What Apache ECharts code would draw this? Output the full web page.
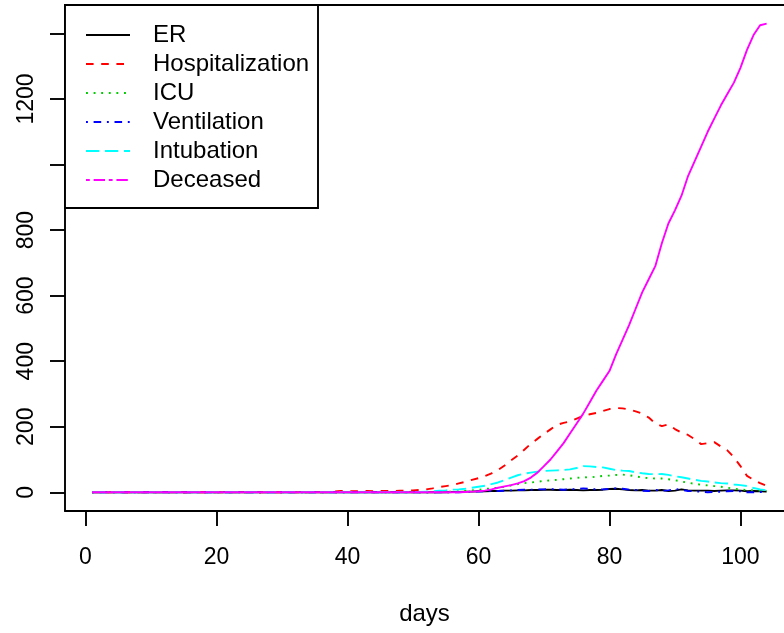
<!DOCTYPE html>
<html><head><meta charset="utf-8">
<script src="https://cdn.jsdelivr.net/npm/echarts@6/dist/echarts.min.js"></script>
<style>html,body{margin:0;padding:0;background:#fff;overflow:hidden}#c{width:784px;height:633px}</style>
</head><body><div id="c"></div>
<script>
const seriesNames = ['ER', 'Hospitalization', 'ICU', 'Ventilation', 'Intubation', 'Deceased'];
const er = [
  0,0,0,0,0,0,0,0,0,0, 0,0,0,0,0,0,0,0,0,0, 0,0,0,0,0,0,0,0,0,0,
  0,0,0,0,0,0,0,0,0,0, 0,0,0,0,0,0,0,0,0,0, 0,0,0,0,0,
  1,1,2,2,3,3,4,4,5,5, 6,6,7,7,8,8,7,7,8,7, 6,7,7,8,10,11,9,7,6,7,
  5,5,7,4,5,9,6,5,5,5, 4,5,6,6,5,3,4,3,2];
const hospitalization = [
  0,0,0,0,0,0,0,0,0,0, 0,0,0,0,0,0,0,0,0,0, 0,0,0,0,0,0,0,0,0,0,
  0,0,0,0,0,0,0,
  2,4,4,3,4,4,3,4,4,4, 5,5,6,7,9,12,16,19,22,27,
  32,38,43,50,58,68,82,98,112,130, 148,163,178,192,206,212,216,225,233,238,
  242,248,254,257,256,253,247,240,228,210, 202,207,193,182,175,162,147,150,153,140,
  128,107,80,50,38,28,20];
const icu = [
  0,0,0,0,0,0,0,0,0,0, 0,0,0,0,0,0,0,0,0,0, 0,0,0,0,0,0,0,0,0,0,
  0,0,0,0,0,0,0,0,0,0, 0,0,0,0,0,0,0,0,0,0, 0,0,0,0,
  1,2,3,4,6,8,10,12,14,17, 21,25,28,30,32,35,36,38,40,42,
  44,46,45,48,50,51,53,54,52,49, 45,43,42,42,40,37,33,29,26,23,
  21,19,17,14,11,9,7,6,5,4];
const ventilation = [
  0,0,0,0,0,0,0,0,0,0, 0,0,0,0,0,0,0,0,0,0, 0,0,0,0,0,0,0,0,0,0,
  0,0,0,0,0,0,0,0,0,0, 0,0,0,0,0,0,0,0,0,0, 0,0,0,0,0,0,0,
  1,2,2,3,4,4,5,6,7,8, 8,9,9,10,9,8,9,10,12,10,
  9,9,10,12,11,8,7,5,4,7, 5,6,10,8,4,3,2,0,1,2,
  3,4,3,0,0,1,1];
const intubation = [
  0,0,0,0,0,0,0,0,0,0, 0,0,0,0,0,0,0,0,0,0, 0,0,0,0,0,0,0,0,0,0,
  0,0,0,0,0,0,0,0,0,0, 0,0,0,0,0,0,0,0,0,0,
  1,2,3,5,6,8,9,11,14,17, 20,25,30,37,45,52,57,60,63,65,
  66,67,68,70,74,80,79,77,76,72, 68,66,65,61,58,56,55,56,53,49,
  46,42,38,35,33,30,28,27,24,22, 19,13,9,6];
const deceased = [
  0,0,0,0,0,0,0,0,0,0, 0,0,0,0,0,0,0,0,0,0, 0,0,0,0,0,0,0,0,0,0,
  0,0,0,0,0,0,0,0,0,0, 0,0,0,0,0,0,0,0,0,0, 0,0,0,0,0,0,0,
  1,2,3,5,9,14,18,22,27,34, 45,60,80,100,125,150,180,210,240,275,
  310,340,370,420,465,510,560,610,650,690, 760,820,860,905,965,1010,1055,1100,1140,1180,
  1215,1250,1295,1350,1395,1425,1430];
const xTicks = [0, 20, 40, 60, 80, 100];
const yTicks = [0, 200, 400, 600, 800, 1000, 1200, 1400];
const yLabels = [0, 200, 400, 600, 800, 1200];
const xTitle = 'days';

const allData = [er, hospitalization, icu, ventilation, intubation, deceased];
const colors = ['#000000', '#FF0000', '#00CD00', '#0000FF', '#00FFFF', '#FF00FF'];
const LW = 1.9;
// legend line types (R lty 1..6)
const legendDashes = ['solid', [7.6, 7.6], [1.9, 5.7], [1.9, 5.7, 7.6, 5.7], [13.3, 5.7], [3.8, 3.8, 11.4, 3.8]];
// plotted line types (Deceased drawn solid in the plot)
const plotDashes = ['solid', [7.6, 7.6], [1.9, 5.7], [1.9, 5.7, 7.6, 5.7], [13.3, 5.7], 'solid'];
const FONT = '"Liberation Sans", Arial, Helvetica, sans-serif';
const XMIN = -3.12, XMAX = 106.65;
const YMIN = -57.06, YMAX = 1486.8;

const series = allData.map((arr, k) => ({
  name: seriesNames[k],
  type: 'line',
  data: arr.map((v, i) => [i + 1, v]),
  showSymbol: false,
  symbol: 'none',
  silent: true,
  lineStyle: { color: colors[k], width: LW, type: plotDashes[k] },
  z: 2 + k
}));

const legendEls = [{
  type: 'rect', z: 100,
  shape: { x: 65, y: 5, width: 253, height: 203 },
  style: { fill: '#fff', stroke: '#000', lineWidth: LW }
}];
seriesNames.forEach((n, k) => {
  const yc = 35 + k * 29;
  legendEls.push({
    type: 'line', z: 101,
    shape: { x1: 86, y1: yc, x2: 130, y2: yc },
    style: { stroke: colors[k], lineWidth: LW, lineDash: legendDashes[k] === 'solid' ? null : legendDashes[k] }
  });
  legendEls.push({
    type: 'text', z: 101, x: 153, y: yc,
    style: { text: n, fill: '#000', font: '24px ' + FONT, verticalAlign: 'middle', align: 'left' }
  });
});

const tickStyle = { color: '#000', width: LW };
const chart = echarts.init(document.getElementById('c'), null, { renderer: 'canvas' });
chart.setOption({
  animation: false,
  backgroundColor: '#fff',
  grid: { left: 65, top: 5, right: 0, bottom: 122, show: false },
  xAxis: [{
    type: 'value', min: XMIN, max: XMAX, position: 'bottom',
    splitLine: { show: false },
    axisLine: { show: true, onZero: false, lineStyle: tickStyle },
    axisTick: { show: true, inside: false, length: 15, customValues: xTicks, lineStyle: tickStyle },
    axisLabel: { customValues: xTicks, color: '#000', fontSize: 23, fontFamily: FONT, margin: 35 },
    name: xTitle, nameLocation: 'middle', nameGap: 91,
    nameTextStyle: { color: '#000', fontSize: 24, fontFamily: FONT }
  }, {
    type: 'value', min: XMIN, max: XMAX, position: 'top',
    splitLine: { show: false },
    axisLine: { show: true, onZero: false, lineStyle: tickStyle },
    axisTick: { show: false }, axisLabel: { show: false }
  }],
  yAxis: {
    type: 'value', min: YMIN, max: YMAX,
    splitLine: { show: false },
    axisLine: { show: true, onZero: false, lineStyle: tickStyle },
    axisTick: { show: true, inside: false, length: 15, customValues: yTicks, lineStyle: tickStyle },
    axisLabel: { customValues: yLabels, rotate: 90, color: '#000', fontSize: 23, fontFamily: FONT, margin: 27,
      formatter: v => String(v) }
  },
  graphic: legendEls,
  series: series
});
</script></body></html>
